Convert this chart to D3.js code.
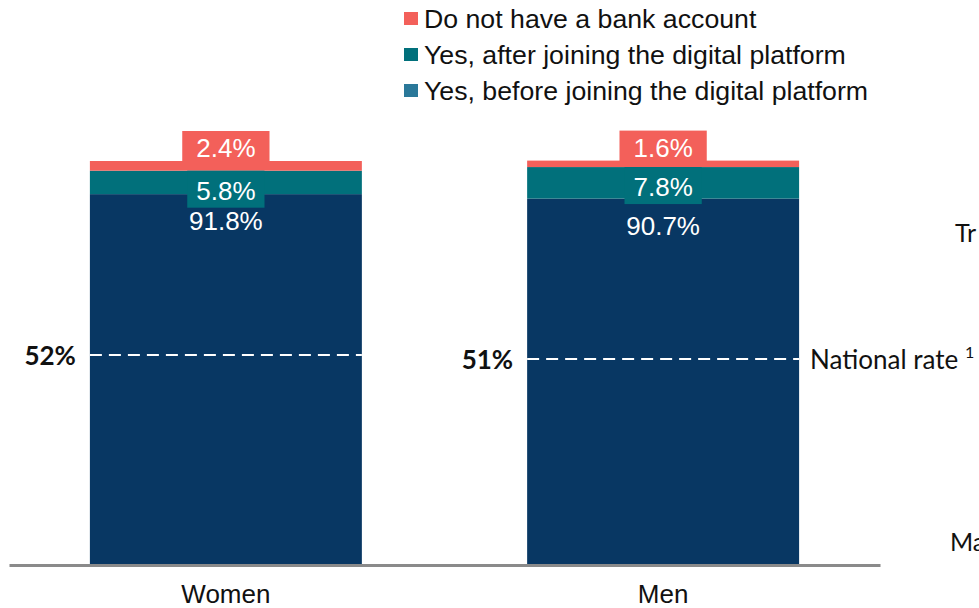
<!DOCTYPE html>
<html>
<head>
<meta charset="utf-8">
<script src="https://cdn.jsdelivr.net/npm/d3@7"></script>
<style>
  html, body { margin: 0; padding: 0; background: #ffffff; }
  svg { display: block; }
</style>
</head>
<body>
<svg id="chart" width="979" height="608"></svg>
<script>
// Bank account ownership by gender (shares in %)
const categories = ["Women", "Men"];
const seriesNames = [
  "Yes, before joining the digital platform",
  "Yes, after joining the digital platform",
  "Do not have a bank account"
];
const beforeJoining = [91.8, 90.7];
const afterJoining = [5.8, 7.8];
const noAccount = [2.4, 1.6];
const nationalRate = [52, 51];
const nationalRateLabel = "National rate";
const sideLabels = ["Tr", "Ma"];

const barColors = ["#083763", "#01707B", "#F3605A"];
const legendColors = ["#2A7899", "#01707B", "#F3605A"];

const svg = d3.select("#chart");

const x = d3.scaleBand()
  .domain(categories)
  .range([9, 880])
  .paddingInner(0.378)
  .paddingOuter(0.185);

const y = d3.scaleLinear().domain([0, 100]).range([565, 161]);

// stack the three series
const rows = categories.map((c, i) => ({
  cat: c, before: beforeJoining[i], after: afterJoining[i], none: noAccount[i]
}));
const stack = d3.stack().keys(["before", "after", "none"]);
const layers = stack(rows);

svg.append("g").selectAll("g")
  .data(layers)
  .join("g")
  .attr("fill", (d, i) => barColors[i])
  .selectAll("rect")
  .data(d => d)
  .join("rect")
  .attr("x", d => x(d.data.cat))
  .attr("width", x.bandwidth())
  .attr("y", d => y(d[1]))
  .attr("height", d => y(d[0]) - y(d[1]));

// baseline axis
const axis = d3.axisBottom(x).tickSize(0).tickPadding(20);
const axisG = svg.append("g").attr("transform", `translate(0,${y(0)})`).call(axis);
axisG.select(".domain").attr("stroke", "#8A8A8A").attr("stroke-width", 3);
axisG.selectAll(".tick text")
  .attr("font-family", "Liberation Sans, Arial, sans-serif")
  .attr("font-size", 26)
  .attr("fill", "#111");

const fmt = v => d3.format(".1f")(v) + "%";
const labelFont = "Liberation Sans, Arial, sans-serif";

// value labels with coloured boxes
const labG = svg.append("g");
rows.forEach((r, i) => {
  const cx = x(r.cat) + x.bandwidth() / 2;
  const blueTop = y(layers[0][i][1]);
  const tealTop = y(layers[1][i][1]);
  const redTop = y(layers[2][i][1]);

  const specs = [
    { v: r.none, cy: redTop - 13, fill: barColors[2], pad: 14, boxTop: redTop - 30, boxBottom: redTop + 1 },
    { v: r.after, cy: tealTop + 20, fill: barColors[1], pad: 9, boxTop: tealTop, boxBottom: tealTop + 37 },
    { v: r.before, cy: blueTop + 27, fill: null }
  ];
  specs.forEach(s => {
    const t = labG.append("text")
      .attr("x", cx).attr("y", s.cy)
      .attr("text-anchor", "middle")
      .attr("dominant-baseline", "central")
      .attr("font-family", labelFont)
      .attr("font-size", 26)
      .attr("fill", "#ffffff")
      .text(fmt(s.v));
    if (s.fill) {
      const w = t.node().getComputedTextLength() + 2 * s.pad;
      labG.insert("rect", () => t.node())
        .attr("x", cx - w / 2).attr("width", w)
        .attr("y", s.boxTop).attr("height", s.boxBottom - s.boxTop)
        .attr("fill", s.fill);
    }
  });
});

// national rate reference lines
const natG = svg.append("g");
rows.forEach((r, i) => {
  const yy = y(nationalRate[i]);
  natG.append("line")
    .attr("x1", x(r.cat)).attr("x2", x(r.cat) + x.bandwidth())
    .attr("y1", yy).attr("y2", yy)
    .attr("stroke", "#ffffff").attr("stroke-width", 2)
    .attr("stroke-dasharray", "12,7");
  natG.append("text")
    .attr("x", x(r.cat) - 14).attr("y", yy)
    .attr("text-anchor", "end")
    .attr("dominant-baseline", "central")
    .attr("font-family", "Lato, sans-serif")
    .attr("font-weight", 700)
    .attr("font-size", 26)
    .attr("fill", "#111")
    .text(nationalRate[i] + "%");
});

const lastBar = categories[categories.length - 1];
const natText = natG.append("text")
  .attr("x", x(lastBar) + x.bandwidth() + 11)
  .attr("y", y(nationalRate[nationalRate.length - 1]))
  .attr("dominant-baseline", "central")
  .attr("font-family", "Lato, sans-serif")
  .attr("font-size", 26)
  .attr("fill", "#111");
natText.append("tspan").text(nationalRateLabel + " ");
natText.append("tspan").attr("font-size", 16).attr("dy", -8).text("1");

// side labels running off the right edge
svg.append("text").attr("x", 955).attr("y", 242)
  .attr("font-family", "Lato, sans-serif").attr("font-size", 25).attr("fill", "#111")
  .text(sideLabels[0]);
svg.append("text").attr("x", 950).attr("y", 551)
  .attr("font-family", "Lato, sans-serif").attr("font-size", 25).attr("fill", "#111")
  .text(sideLabels[1]);

// legend (top series first)
const legendOrder = [2, 1, 0];
const leg = svg.append("g").attr("transform", "translate(404,0)");
legendOrder.forEach((si, k) => {
  const cy = 18.5 + k * 36;
  leg.append("rect")
    .attr("x", 0).attr("y", cy - 6.5).attr("width", 14).attr("height", 13)
    .attr("fill", legendColors[si]);
  leg.append("text")
    .attr("x", 20).attr("y", cy)
    .attr("dominant-baseline", "central")
    .attr("font-family", labelFont)
    .attr("font-size", 26.7)
    .attr("fill", "#111")
    .text(seriesNames[si]);
});
</script>
</body>
</html>
